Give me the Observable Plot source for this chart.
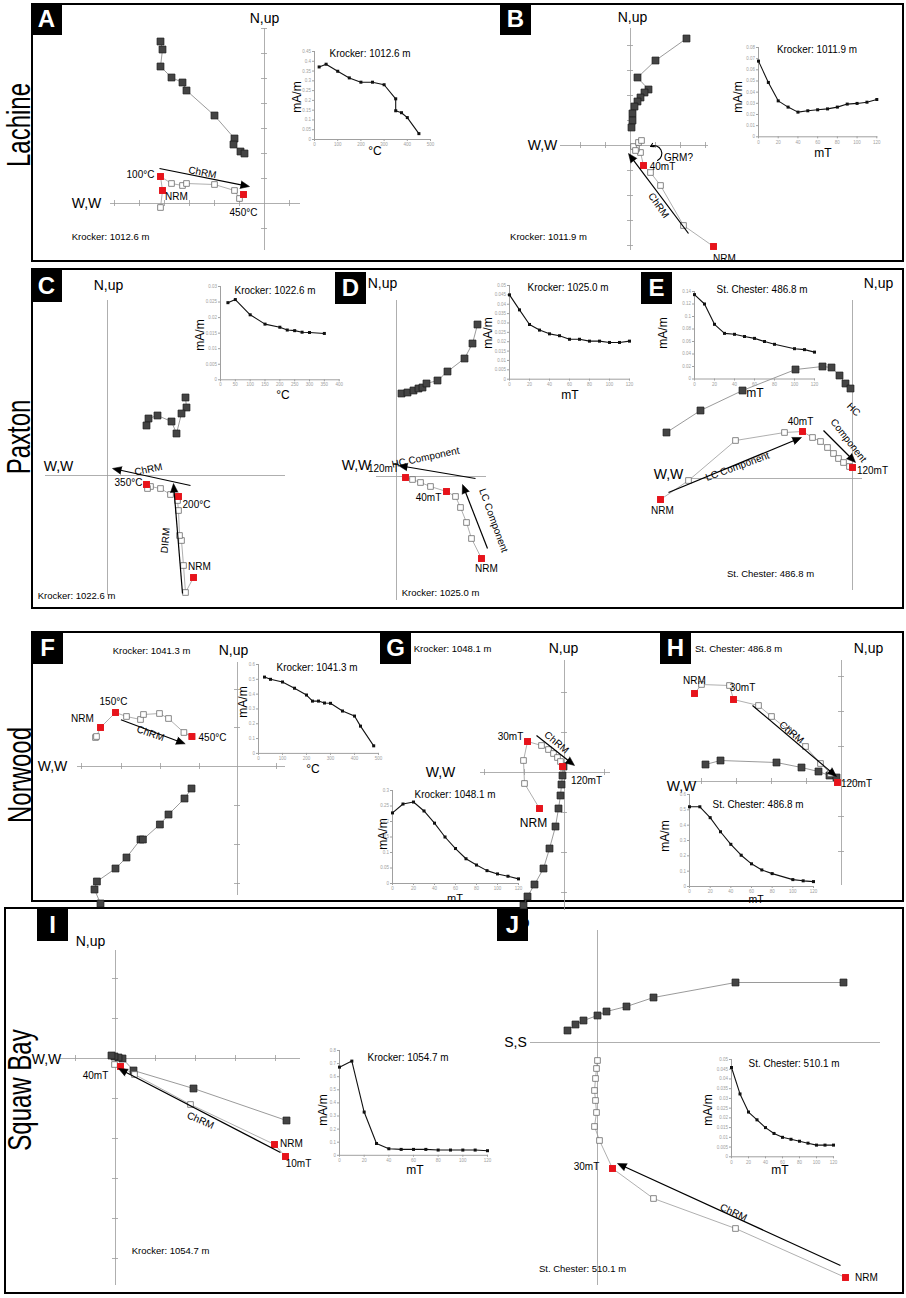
<!DOCTYPE html>
<html><head><meta charset="utf-8">
<script src="https://cdn.jsdelivr.net/npm/d3@7"></script>
<script src="https://cdn.jsdelivr.net/npm/@observablehq/plot@0.6"></script>
<style>
body{margin:0;background:#fff;}
#page{position:relative;width:906px;height:1298px;overflow:hidden;background:#fff;font-family:"Liberation Sans",Arial,Helvetica,sans-serif;}
.box{position:absolute;border:2px solid #000;box-sizing:border-box;}
.plab{position:absolute;width:31px;height:32px;background:#000;color:#fff;font-weight:bold;font-size:24px;display:flex;align-items:center;justify-content:center;}
.t{position:absolute;white-space:nowrap;line-height:1;color:#000;}
</style></head><body><div id="page"></div>
<script>
const FONT='"Liberation Sans", Arial, Helvetica, sans-serif';

// ---------- DATA: demagnetization (intensity decay) curves ----------
const decayA=[[20,0.371],[50,0.385],[100,0.349],[150,0.315],[200,0.293],[250,0.293],[300,0.28],[350,0.208],[350,0.147],[375,0.137],[400,0.112],[450,0.03]];
const decayB=[[0,0.0678],[10,0.0487],[20,0.0322],[30,0.0266],[40,0.0221],[50,0.0233],[60,0.0242],[70,0.025],[80,0.0266],[90,0.0293],[100,0.0299],[110,0.031],[120,0.0334]];
const decayC=[[25,0.0248],[50,0.0258],[100,0.0209],[150,0.0179],[200,0.0169],[225,0.016],[250,0.0158],[275,0.0153],[300,0.0152],[350,0.0149]];
const decayD=[[0,0.045],[10,0.037],[20,0.0292],[30,0.0262],[40,0.0242],[50,0.0232],[60,0.0213],[70,0.0213],[80,0.0203],[90,0.0203],[100,0.0196],[110,0.0196],[120,0.0203]];
const decayE=[[0,0.135],[10,0.12],[20,0.0875],[30,0.073],[40,0.0715],[50,0.068],[60,0.065],[70,0.06],[80,0.0555],[100,0.0485],[110,0.047],[120,0.043]];
const decayF=[[25,0.515],[50,0.5],[100,0.482],[150,0.44],[200,0.394],[225,0.353],[250,0.353],[275,0.34],[300,0.338],[350,0.286],[400,0.252],[425,0.184],[480,0.051]];
const decayG=[[0,0.2277],[10,0.2564],[20,0.2628],[30,0.234],[40,0.1947],[50,0.15],[60,0.1128],[70,0.0798],[80,0.0596],[90,0.0415],[100,0.0309],[110,0.0234],[120,0.0149]];
const decayH=[[0,0.52],[10,0.52],[20,0.449],[30,0.357],[40,0.275],[50,0.204],[60,0.148],[70,0.108],[80,0.084],[100,0.045],[110,0.037],[120,0.032]];
const decayI=[[0,0.673],[10,0.719],[20,0.33],[30,0.09],[40,0.05],[50,0.045],[60,0.045],[70,0.045],[80,0.04],[90,0.04],[100,0.04],[110,0.04],[120,0.035]];
const decayJ=[[0,0.0459],[10,0.0323],[20,0.023],[30,0.019],[40,0.015],[50,0.012],[60,0.01],[70,0.009],[80,0.008],[90,0.007],[100,0.006],[110,0.006],[120,0.006]];

// ---------- DATA: Zijderveld projections (arbitrary units, origin = 0,0) ----------
// h = horizontal projection (filled), v = vertical projection (open), red = labelled steps
const zijA_h=[[-104,162],[-102,154],[-104,137],[-93,126],[-82,121],[-78,113],[-50,88],[-30,65],[-31,59],[-24,52],[-20,50]];
const zijA_v=[[-104,-4],[-102,13],[-104,27],[-93,20],[-82,18],[-78,20],[-50,19],[-30,13],[-25,5],[-21,9]];
const zijA_red=[[-104,27],[-102,13],[-21,9]];
const zijB_h=[[56,107],[25,85],[7,68],[18,56],[14,53],[10,48],[7,44],[4,39],[2,32],[2,25],[1,18]];
const zijB_v=[[83,-101],[53,-80],[30,-40],[20,-27],[13,-20],[10,-7],[6,-3],[3,-1],[8,3],[11,5],[5,-5]];
const zijB_red=[[83,-101],[13,-20]];
const zijC_h=[[78,78],[79,68],[74,62],[69,42],[64,54],[50,60],[41,57],[39,50]];
const zijC_v=[[86,-102],[78,-117],[76,-90],[74,-65],[72,-60],[71,-35],[70,-25],[71,-21],[63,-19],[53,-13],[43,-11],[40,-13],[39,-9]];
const zijC_red=[[86,-102],[71,-21],[39,-9]];
const zijD_h=[[5,83],[11,84],[17,86],[22,88],[26,89],[30,93],[41,96],[51,105],[68,118],[76,133],[81,152]];
const zijD_v=[[9,-1],[16,-3],[24,-6],[34,-10],[50,-15],[59,-20],[64,-31],[70,-46],[75,-62],[85,-82]];
const zijD_red=[[9,-1],[50,-15],[85,-82]];
const zijE_h=[[-186,46],[-152,68],[-110,88],[-57,109],[-30,112],[-21,111],[-13,103],[-7,95],[-2,90]];
const zijE_v=[[-192,-21],[-164,-2],[-117,38],[-68,46],[-50,47],[-40,41],[-32,37],[-25,31],[-19,25],[-14,20],[-9,16],[-3,12],[0,11]];
const zijE_red=[[-192,-21],[-50,47],[0,11]];
const zijF_h=[[-137,-137],[-143,-123],[-140.6,-115],[-122,-102],[-111,-91],[-97,-73],[-94.6,-73],[-77.6,-58],[-69,-48],[-53,-32],[-46,-22]];
const zijF_v=[[-142,29],[-141,30],[-137,39],[-122,54],[-111,50],[-97,47],[-94,52],[-78,53],[-69,48],[-53.6,34],[-45.6,30]];
const zijF_red=[[-137,39],[-122,54],[-45.6,30]];
const zijG_h=[[-1,6],[-2,-3],[-3,-12],[-4,-23],[-6,-36],[-9,-54],[-15,-76],[-21,-96],[-30,-112],[-37,-124],[-41,-133]];
const zijG_v=[[-25,-36],[-40,-11],[-41,12],[-37,31],[-23,27],[-16,23],[-11,19],[-7,15],[-4,11],[-2,6]];
const zijG_red=[[-25,-36],[-37,31],[-2,6]];
const zijH_h=[[-136,17],[-121,21],[-65,19],[-40,14],[-23,10],[-12,6],[-5,4]];
const zijH_v=[[-147,88],[-140,97],[-112,96],[-108,82],[-83,76],[-70,65],[-53,51],[-36,35],[-21,18],[-11,8],[-4,-1]];
const zijH_red=[[-147,88],[-108,82],[-4,-1]];
const zijI_h=[[171,-62],[78,-30],[18,-12],[7,0],[3,1],[-1,2],[-4,3]];
const zijI_v=[[170,-98],[159,-86],[75,-46],[19,-16],[5,-8],[-1,-6]];
const zijI_red=[[170,-98],[159,-86],[5,-8]];
const zijJ_h=[[246,60],[138,60],[56,45],[29,36],[9,31],[0,27],[-14,22],[-22,18],[-30,12]];
const zijJ_v=[[248,-235],[138,-186],[56,-156],[15,-126],[2,-98],[-3,-84],[-1,-70],[-2,-58],[-3,-48],[-2,-36],[-1,-26],[0,-18]];
const zijJ_red=[[248,-235],[15,-126]];

// tick labels for the decay insets
const ticks500=[0,100,200,300,400,500], ticks400=[0,50,100,150,200,250,300,350,400], ticks120=[0,20,40,60,80,100,120];

// ---------- helpers ----------
const page=document.getElementById('page');
function T(s,x,y,size,o={}){
  const d=document.createElement('div');d.className='t';d.textContent=s;
  d.style.left=x+'px';d.style.top=y+'px';d.style.fontSize=size+'px';
  if(o.weight)d.style.fontWeight=o.weight;
  d.style.transform=`translate(-50%,-50%) rotate(${o.rot||0}deg) scale(${o.sx||1},${o.sy||1})`;
  page.appendChild(d);
}
function place(el,x,y){el.style.position='absolute';el.style.left=x+'px';el.style.top=y+'px';page.appendChild(el);}
const X=d=>d[0],Y=d=>d[1];

function zij(c){
  const [bx0,by0,bx1,by1]=c.box,[ox,oy]=c.origin;
  const w=bx1-bx0,h=by1-by0;
  const ax="#9a9a9a";
  const marks=[
    Plot.ruleY([0],{x1:c.hAxis[0],x2:c.hAxis[1],stroke:ax,strokeWidth:0.8}),
    Plot.ruleX([0],{y1:c.vAxis[0],y2:c.vAxis[1],stroke:ax,strokeWidth:0.8})
  ];
  if(c.hTicks)marks.push(Plot.ruleX(c.hTicks,{x:d=>d,y1:-3,y2:3,stroke:ax,strokeWidth:0.8}));
  if(c.vTicks)marks.push(Plot.ruleY(c.vTicks,{y:d=>d,x1:-3,x2:3,stroke:ax,strokeWidth:0.8}));
  marks.push(Plot.line(c.h,{x:X,y:Y,stroke:"#808080",strokeWidth:0.8}));
  marks.push(Plot.line(c.v,{x:X,y:Y,stroke:"#9a9a9a",strokeWidth:0.8}));
  marks.push(Plot.dot(c.h,{x:X,y:Y,symbol:"square",r:3.9,fill:"#444",stroke:"#1a1a1a",strokeWidth:0.7}));
  marks.push(Plot.dot(c.v,{x:X,y:Y,symbol:"square",r:3.2,fill:"#fff",stroke:"#6a6a6a",strokeWidth:0.8}));
  marks.push(Plot.dot(c.red,{x:X,y:Y,symbol:"square",r:3.9,fill:"#e8131b"}));
  (c.arrows||[]).forEach(a=>{
    const dx=a[2]-a[0],dy=a[3]-a[1],L=Math.hypot(dx,dy),k=(L-6)/L;
    const ang=Math.atan2(dx,dy)*180/Math.PI;
    marks.push(Plot.link([a],{x1:d=>d[0],y1:d=>d[1],x2:d=>d[0]+dx*k,y2:d=>d[1]+dy*k,stroke:"#000",strokeWidth:1.2}));
    marks.push(Plot.vector([a],{x:d=>d[2],y:d=>d[3],length:9,rotate:ang,shape:"spike",anchor:"end",r:3.8,fill:"#000",stroke:"#000",strokeWidth:0.5}));
  });
  (c.bent||[]).forEach(a=>{
    marks.push(Plot.arrow([a],{x1:d=>d[0],y1:d=>d[1],x2:d=>d[2],y2:d=>d[3],bend:a[4],headLength:5,stroke:"#000",strokeWidth:1.1}));
  });
  marks.push(Plot.text(c.texts,{x:d=>d[0],y:d=>d[1],text:d=>d[2],fontSize:d=>d[3],rotate:d=>d[4]||0,fill:"#000"}));
  const svg=Plot.plot({width:w,height:h,margin:0,
    x:{domain:[bx0-ox,bx1-ox],axis:null},y:{domain:[oy-by1,oy-by0],axis:null},
    style:{background:"transparent",overflow:"visible",fontFamily:FONT},marks});
  place(svg,bx0,by0);
}

function inset(c){
  const ml=18,mr=4,mt=3,mb=9;
  const W=c.fx[1]-c.fx[0]+ml+mr,H=c.fy[1]-c.fy[0]+mt+mb;
  const fmt=d=>String(+d.toFixed(4));
  const svg=Plot.plot({width:W,height:H,marginLeft:ml,marginRight:mr,marginTop:mt,marginBottom:mb,
    x:{domain:c.xd,ticks:c.xt,tickSize:2,tickPadding:1.5,tickFormat:fmt,label:null,line:true},
    y:{domain:c.yd,ticks:c.yt,tickSize:2,tickPadding:1.5,tickFormat:fmt,label:null,line:true},
    style:{background:"transparent",overflow:"visible",fontFamily:FONT,fontSize:"4.5px",color:"#a0a0a0"},
    marks:[
      Plot.line(c.data,{x:X,y:Y,stroke:"#111",strokeWidth:1.1}),
      Plot.dot(c.data,{x:X,y:Y,symbol:"square",r:1.7,fill:"#111"})
    ]});
  place(svg,c.fx[0]-ml,c.fy[0]-mt);
  T(c.title,c.tp[0],c.tp[1],11,{sx:0.9});
  T("mA/m",c.yl[0],c.yl[1],12,{rot:-90});
  T(c.xl,c.xlp[0],c.xlp[1],c.xls||12);
}
const range=(a,b,s)=>d3.range(0,Math.round((b-a)/s)+1).map(i=>+(a+i*s).toFixed(4));

// ---------- frame: row boxes, labels ----------
[[31,3,904,262],[31,268,904,609],[31,631,904,902],[4,907,904,1294]].forEach(b=>{
  const d=document.createElement('div');d.className='box';
  d.style.left=b[0]+'px';d.style.top=b[1]+'px';d.style.width=(b[2]-b[0])+'px';d.style.height=(b[3]-b[1])+'px';page.appendChild(d);
});
[["Lachine",19,125],["Paxton",19,437],["Norwood",20,775],["Squaw Bay",20,1090]].forEach(r=>T(r[0],r[1],r[2],24,{rot:-90,sy:1.35}));

// ---------- Zijderveld diagrams ----------
zij({box:[33,5,500,260],origin:[264,203],hAxis:[-154,36],vAxis:[-47,175],
  hTicks:[-150,-125,-100,-75,-50,-25,25],vTicks:[175,150,125,100,75,50,25,-25],
  h:zijA_h,v:zijA_v,red:zijA_red,arrows:[[-105,35,-15,17]],
  texts:[[0,185,"N,up",14],[-178,0,"W,W",14],[-124,29,"100°C",10],[-88,7,"NRM",10],[-21,-9,"450°C",10],[-62,31,"ChRM",10,11],[-154,-33,"Krocker: 1012.6 m",9.5]]});
zij({box:[500,5,902,260],origin:[630,145],hAxis:[-70,78],vAxis:[-105,117],
  hTicks:[-50,-25,25,50,75],vTicks:[100,75,50,25,-25,-50,-75,-100],
  h:zijB_h,v:zijB_v,red:zijB_red,arrows:[[58,-88,-2,-8]],bent:[[27,-15,20,-1,-120]],
  texts:[[2,128,"N,up",14],[-88,0,"W,W",14],[32,-21,"40mT",10],[48,-12,"GRM?",10],[94,-113,"NRM",10],[28,-60,"ChRM",10,55],[-82,-91,"Krocker: 1011.9 m",9.5]]});
zij({box:[33,270,337,607],origin:[107,475],hAxis:[-62,178],vAxis:[-120,175],
  h:zijC_h,v:zijC_v,red:zijC_red,arrows:[[83,-10,5,7],[75,-118,66,-8]],
  texts:[[1,190,"N,up",14],[-49,9,"W,W",14],[21,-7,"350°C",10],[89,-29,"200°C",10],[92,-91,"NRM",10],[41,6,"ChRM",10,-12],[58,-65,"DIRM",10,-85],[-31,-120,"Krocker: 1022.6 m",9.5]]});
zij({box:[337,270,641,607],origin:[396,476],hAxis:[-20,90],vAxis:[-124,176],
  h:zijD_h,v:zijD_v,red:zijD_red,arrows:[[79,-2,2,11],[91,-72,66,-8]],
  texts:[[-14,193,"N,up",14],[-40,11,"W,W",14],[-13,8,"120mT",10],[32,-21,"40mT",10],[90,-92,"NRM",10],[29,19,"HC Component",10,-12],[97,-44,"LC Component",10,70],[44,-116,"Krocker: 1025.0 m",9.5]]});
zij({box:[641,270,902,607],origin:[852,478],hAxis:[-162,10],vAxis:[-112,178],
  h:zijE_h,v:zijE_v,red:zijE_red,arrows:[[-184,-14,-51,41],[-29,48,3,16]],
  texts:[[26,195,"N,up",14],[-184,4,"W,W",14],[-52,57,"40mT",10],[20,8,"120mT",10],[-190,-32,"NRM",10],[-115,12,"LC Component",10,-20],[1,69,"HC",10,45],[-4,38,"Component",10,52],[-82,-95,"St. Chester: 486.8 m",9.5]]});
zij({box:[33,634,380,897],origin:[237,766],hAxis:[-160,48],vAxis:[-129,104],
  hTicks:[-156,-116,-77,-38,39],vTicks:[77,39,-39,-78,-117],
  h:zijF_h,v:zijF_v,red:zijF_red,arrows:[[-116.6,46.7,-52.3,22.7]],
  texts:[[-4,116,"N,up",14],[-185,0,"W,W",14],[-124,65,"150°C",10],[-155,48,"NRM",10],[-25,29,"450°C",10],[-87,33,"ChRM",10,20],[-86,116,"Krocker: 1041.3 m",9.5]]});
zij({box:[380,634,660,910],origin:[564,772],hAxis:[-84,46],vAxis:[-138,112],
  hTicks:[-80,-40,40],vTicks:[80,40,-40,-80,-120],
  h:zijG_h,v:zijG_v,red:zijG_red,arrows:[[-28,37,10,7]],
  texts:[[-1,124,"N,up",14],[-124,0,"W,W",14],[-54,36,"30mT",10],[22,-8,"120mT",10],[-31,-51,"NRM",12],[-8,30,"ChRM",10,40],[-112,124,"Krocker: 1048.1 m",9.5]]});
zij({box:[660,634,902,897],origin:[841,781],hAxis:[-151,19],vAxis:[-104,121],
  hTicks:[-140,-105,-70,-35],vTicks:[105,70,35,-35,-70],
  h:zijH_h,v:zijH_v,red:zijH_red,arrows:[[-89,76,-5,5]],
  texts:[[27,133,"N,up",14],[-160,-5,"W,W",14],[-147,101,"NRM",10],[-99,94,"30mT",10],[15,-2,"120mT",10],[-50,49,"ChRM",10,40],[-103,133,"St. Chester: 486.8 m",9.5]]});
zij({box:[6,909,497,1292],origin:[115,1058],hAxis:[-55,185],vAxis:[-227,108],
  hTicks:[-40,40,80,120,160],vTicks:[80,40,-40,-80,-120,-160,-200],
  h:zijI_h,v:zijI_v,red:zijI_red,arrows:[[165,-94,3,-10]],
  texts:[[-25,117,"N,up",14],[-69,-1,"W,W",14],[-20,-17,"40mT",10],[176,-85,"NRM",10],[183,-105,"10mT",10],[85,-62,"ChRM",10,24],[55,-192,"Krocker: 1054.7 m",9.5]]});
zij({box:[497,909,902,1292],origin:[597,1042],hAxis:[-67,283],vAxis:[-243,112],
  h:zijJ_h,v:zijJ_v,red:zijJ_red,arrows:[[243,-223,20,-121]],
  texts:[[-84,120,"W,up",14],[-82,0,"S,S",14],[-11,-124,"30mT",10],[269,-235,"NRM",10],[136,-170,"ChRM",10,25],[-15,-226,"St. Chester: 510.1 m",9.5]]});

// ---------- intensity decay insets ----------
inset({fx:[314,430],fy:[51,139],xd:[0,500],yd:[0,0.45],xt:ticks500,yt:range(0,0.45,0.05),data:decayA,title:"Krocker: 1012.6 m",tp:[370,53],yl:[297,97],xl:"°C",xlp:[375,151]});
inset({fx:[757.7,876],fy:[46.7,136],xd:[0,120],yd:[0,0.08],xt:ticks120,yt:range(0,0.08,0.01),data:decayB,title:"Krocker: 1011.9 m",tp:[817,49],yl:[738,97],xl:"mT",xlp:[823,153]});
inset({fx:[220,338.7],fy:[286,379.3],xd:[0,400],yd:[0,0.03],xt:ticks400,yt:range(0,0.03,0.005),data:decayC,title:"Krocker: 1022.6 m",tp:[275,290],yl:[200,335],xl:"°C",xlp:[283,395]});
inset({fx:[509.3,629.3],fy:[285,378.7],xd:[0,120],yd:[0,0.05],xt:ticks120,yt:range(0,0.05,0.005),data:decayD,title:"Krocker: 1025.0 m",tp:[568,287],yl:[488,333],xl:"mT",xlp:[570,395]});
inset({fx:[693.7,813.7],fy:[290.5,378],xd:[0,120],yd:[0,0.14],xt:ticks120,yt:range(0,0.14,0.02),data:decayE,title:"St. Chester: 486.8 m",tp:[762,289],yl:[663,333],xl:"mT",xlp:[755,393]});
inset({fx:[258.3,378.3],fy:[664.4,753.3],xd:[0,500],yd:[0,0.6],xt:ticks500,yt:range(0,0.6,0.1),data:decayF,title:"Krocker: 1041.3 m",tp:[317,667],yl:[243,702],xl:"°C",xlp:[313,769]});
inset({fx:[391.7,517.7],fy:[790,883],xd:[0,120],yd:[0,0.3],xt:ticks120,yt:range(0,0.3,0.05),data:decayG,title:"Krocker: 1048.1 m",tp:[455,794],yl:[383,834],xl:"mT",xlp:[455,898],xls:11});
inset({fx:[689.3,813.3],fy:[794,886],xd:[0,120],yd:[0,0.6],xt:ticks120,yt:range(0,0.6,0.1),data:decayH,title:"St. Chester: 486.8 m",tp:[758,804],yl:[665,836],xl:"mT",xlp:[756,898.5],xls:10.5});
inset({fx:[339,487],fy:[1050,1154.8],xd:[0,120],yd:[0,0.8],xt:ticks120,yt:range(0,0.8,0.1),data:decayI,title:"Krocker: 1054.7 m",tp:[408,1057],yl:[323,1110],xl:"mT",xlp:[415,1170]});
inset({fx:[731,833],fy:[1058.7,1156],xd:[0,120],yd:[0,0.05],xt:ticks120,yt:range(0,0.05,0.005),data:decayJ,title:"St. Chester: 510.1 m",tp:[794,1063],yl:[708,1110],xl:"mT",xlp:[780,1170]});

// ---------- panel labels ----------
[["A",31,3],["B",500,3],["C",31,270],["D",335,272],["E",641,272],["F",32,632],["G",380,632],["H",660,632],["I",37,909],["J",497,909]].forEach(p=>{
  const d=document.createElement('div');d.className='plab';d.textContent=p[0];d.style.left=p[1]+'px';d.style.top=p[2]+'px';page.appendChild(d);
});
</script></body></html>
